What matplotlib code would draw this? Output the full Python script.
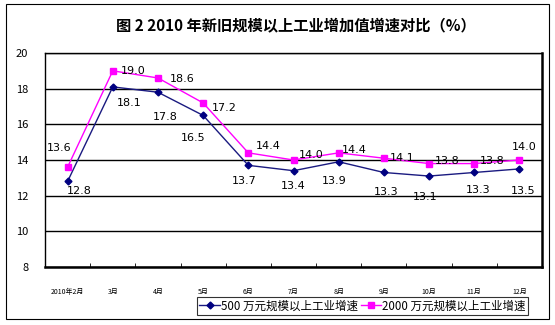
import matplotlib
matplotlib.use('Agg')
import matplotlib.pyplot as plt
from matplotlib.patches import Rectangle

plt.rcParams['font.family'] = ['Noto Sans CJK SC', 'DejaVu Sans']

# 数据
meses = ['2010年2月', '3月', '4月', '5月', '6月', '7月', '8月', '9月', '10月', '11月', '12月']
serie_500 = [12.8, 18.1, 17.8, 16.5, 13.7, 13.4, 13.9, 13.3, 13.1, 13.3, 13.5]
serie_2000 = [13.6, 19.0, 18.6, 17.2, 14.4, 14.0, 14.4, 14.1, 13.8, 13.8, 14.0]
nome_500 = '500 万元规模以上工业增速'
nome_2000 = '2000 万元规模以上工业增速'
titulo = '图 2 2010 年新旧规模以上工业增加值增速对比（%）'

# deslocamento dos rótulos (pixels, y para baixo)
desl_500 = [(12, 10), (16, 16), (7, 25), (-10, 23), (-4, 16), (0, 15),
            (-4, 19), (2, 20), (-4, 21), (4, 18), (4, 22)]
desl_2000 = [(-8, -19), (20, 0), (24, 1), (21, 5), (20, -7), (18, -5),
             (16, -3), (18, 0), (18, -3), (18, -3), (5, -13)]

W, H = 555, 325
fig = plt.figure(figsize=(W / 100, H / 100), dpi=100)
ax = fig.add_axes([45 / W, 1 - 267 / H, 497 / W, 214 / H])

x = list(range(len(meses)))
ax.plot(x, serie_500, color='#1a1a80', lw=1.0, marker='D', ms=3.5,
        mfc='#000080', mec='#000080', label=nome_500, zorder=3)
ax.plot(x, serie_2000, color='#ff00ff', lw=1.0, marker='s', ms=4.5,
        mfc='#ff00ff', mec='#ff00ff', label=nome_2000, zorder=3)

for i, v in enumerate(serie_500):
    dx, dy = desl_500[i]
    ax.annotate(f'{v:.1f}', (i, v), xytext=(dx, -dy), textcoords='offset pixels',
                ha='center', va='center', fontsize=8, family='DejaVu Sans')
for i, v in enumerate(serie_2000):
    dx, dy = desl_2000[i]
    ax.annotate(f'{v:.1f}', (i, v), xytext=(dx, -dy), textcoords='offset pixels',
                ha='center', va='center', fontsize=8, family='DejaVu Sans')

ax.set_xlim(-0.5, len(meses) - 0.5)
ax.set_ylim(8, 20)
ax.set_yticks(range(8, 21, 2))
ax.tick_params(axis='y', length=0, pad=12, labelsize=8)
ax.set_xticks(x)
ax.set_xticklabels(meses, fontsize=5)
ax.tick_params(axis='x', which='major', length=0, pad=15)
ax.set_xticks([i + 0.5 for i in x[:-1]], minor=True)
ax.tick_params(axis='x', which='minor', direction='in', length=3, color='black')
ax.grid(axis='y', color='black', lw=1)
for s in ['left', 'top']:
    ax.spines[s].set_linewidth(1)
for s in ['right', 'bottom']:
    ax.spines[s].set_linewidth(1.8)

fig.text(296 / W, 1 - 25 / H, titulo, ha='center', va='center',
         fontsize=11, fontweight='bold')

# moldura externa
fig.patches.append(Rectangle((6 / W, 1 - 319 / H), 543 / W, 315 / H,
                             transform=fig.transFigure, fill=False,
                             edgecolor='black', lw=0.8))

leg = fig.legend(loc='upper left', bbox_to_anchor=(197 / W, 1 - 297 / H), ncol=2,
                 fontsize=8.3, frameon=True, fancybox=False, edgecolor='black',
                 borderpad=0.2, handlelength=1.8, handletextpad=0.1,
                 columnspacing=0.2, borderaxespad=0)
leg.get_frame().set_linewidth(0.8)

fig.savefig('out.png', dpi=100)
